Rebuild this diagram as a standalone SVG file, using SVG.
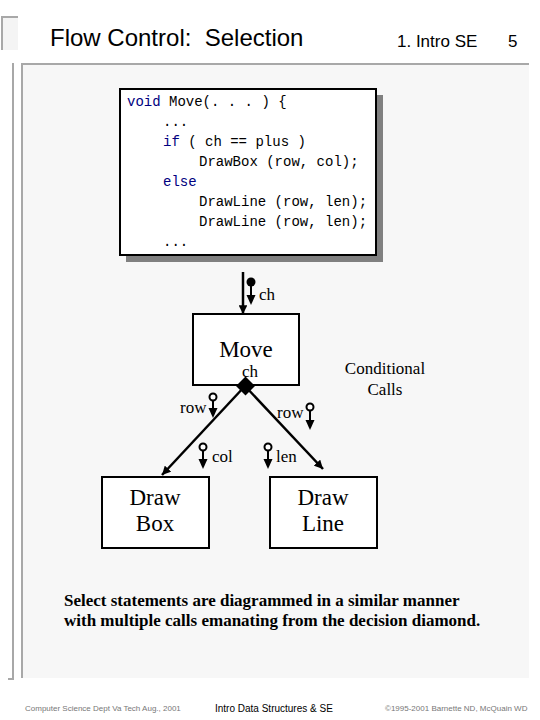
<svg xmlns="http://www.w3.org/2000/svg" width="540" height="720" viewBox="0 0 540 720">
<defs>
<style>
.frame{stroke:#a8a8a8;stroke-width:2;fill:none}
.hdr{font-family:"Liberation Sans",Arial,sans-serif;fill:#000;white-space:pre}
.code{font-family:"Liberation Mono","Courier New",monospace;font-size:14px;fill:#000}
.kw{fill:#000080}
.box{fill:#fff;stroke:#000;stroke-width:2}
.big{font-family:"Liberation Serif","Times New Roman",serif;font-size:23px;fill:#000;text-anchor:middle}
.lbl{font-family:"Liberation Serif","Times New Roman",serif;font-size:17px;fill:#000}
.conn{stroke:#000;stroke-width:2.5;fill:none}
.dc{stroke:#000;stroke-width:2;fill:none}
.note{font-family:"Liberation Serif","Times New Roman",serif;font-size:17px;font-weight:bold;fill:#000}
.foot{font-family:"Liberation Sans",Arial,sans-serif;font-size:8px;fill:#777}
</style>
<marker id="ah" viewBox="0 0 10 10" refX="10" refY="5" markerWidth="3.5" markerHeight="3.5" orient="auto" markerUnits="strokeWidth">
<path d="M0,0 L10,5 L0,10 z" fill="#000"/>
</marker>
</defs>
<rect width="540" height="720" fill="#fff"/>
<!-- slide frame -->
<rect x="2" y="17" width="16" height="33" fill="#f4f4f4"/>
<path class="frame" d="M2,50 V17 H18"/>
<path class="frame" d="M13,63 V679 H8"/>
<rect x="22" y="64" width="507" height="614" fill="#f7f7f7"/>
<path class="frame" d="M22,678 V64 H529"/>
<text class="hdr" x="50" y="46" font-size="24" xml:space="preserve">Flow Control:  Selection</text>
<text class="hdr" x="397" y="47" font-size="17">1. Intro SE</text>
<text class="hdr" x="508" y="47" font-size="17">5</text>
<!-- code box -->
<g id="code">
<rect x="126" y="95" width="257" height="167" fill="#808080"/>
<rect x="120" y="89" width="256" height="166" fill="#fff" stroke="#000" stroke-width="2"/>
<text class="code" x="127" y="106"><tspan class="kw">void</tspan> Move(. . . ) {</text>
<text class="code" x="163" y="126">...</text>
<text class="code" x="163" y="146"><tspan class="kw">if</tspan> ( ch == plus )</text>
<text class="code" x="199" y="166">DrawBox (row, col);</text>
<text class="code kw" x="163" y="186">else</text>
<text class="code" x="199" y="206">DrawLine (row, len);</text>
<text class="code" x="199" y="226">DrawLine (row, len);</text>
<text class="code" x="163" y="246">...</text>
</g>
<!-- nodes -->
<g id="move">
<rect class="box" x="193" y="314" width="106" height="71"/>
<text class="big" x="246" y="357" font-size="24">Move</text>
<text class="lbl" x="242" y="377">ch</text>
</g>
<g id="drawbox">
<rect class="box" x="102" y="477" width="107" height="71"/>
<text class="big" x="155" y="505">Draw</text>
<text class="big" x="155" y="531">Box</text>
</g>
<g id="drawline">
<rect class="box" x="270" y="477" width="107" height="71"/>
<text class="big" x="323" y="505">Draw</text>
<text class="big" x="323" y="531">Line</text>
</g>
<g id="cond-label">
<text class="lbl" x="385" y="374" font-size="18" text-anchor="middle">Conditional</text>
<text class="lbl" x="385" y="395" font-size="18" text-anchor="middle">Calls</text>
</g>
<!-- connectors -->
<g id="connectors">
<line class="conn" x1="243" y1="272" x2="243" y2="314" marker-end="url(#ah)"/>
<line class="conn" x1="245" y1="386" x2="162" y2="475" marker-end="url(#ah)"/>
<line class="conn" x1="245" y1="386" x2="323" y2="469" marker-end="url(#ah)"/>
<path d="M245.5,376.5 L255,386 L245.5,395.5 L236,386 z" fill="#000"/>
</g>
<!-- data couples -->
<g id="couples">
<g id="dc-ch">
<circle cx="251" cy="282" r="4.5" fill="#000"/>
<line class="dc" x1="251" y1="286" x2="251" y2="297"/>
<path d="M246.5,295 L255.5,295 L251,305 z" fill="#000"/>
<text class="lbl" x="259" y="300">ch</text>
</g>
<g id="dc-row1">
<circle cx="213" cy="397" r="3.5" fill="#fff" stroke="#000" stroke-width="2"/>
<line class="dc" x1="213" y1="401" x2="213" y2="410"/>
<path d="M208.5,408 L217.5,408 L213,418 z" fill="#000"/>
<text class="lbl" x="180" y="413">row</text>
</g>
<g id="dc-row2">
<circle cx="310" cy="407" r="3.5" fill="#fff" stroke="#000" stroke-width="2"/>
<line class="dc" x1="310" y1="411" x2="310" y2="422"/>
<path d="M305.5,420 L314.5,420 L310,430 z" fill="#000"/>
<text class="lbl" x="277" y="418">row</text>
</g>
<g id="dc-col">
<circle cx="203" cy="447" r="3.5" fill="#fff" stroke="#000" stroke-width="2"/>
<line class="dc" x1="203" y1="451" x2="203" y2="460"/>
<path d="M198.5,459 L207.5,459 L203,469 z" fill="#000"/>
<text class="lbl" x="212" y="462">col</text>
</g>
<g id="dc-len">
<circle cx="268" cy="447" r="3.5" fill="#fff" stroke="#000" stroke-width="2"/>
<line class="dc" x1="268" y1="451" x2="268" y2="460"/>
<path d="M263.5,459 L272.5,459 L268,469 z" fill="#000"/>
<text class="lbl" x="276" y="462">len</text>
</g>
</g>
<text class="note" x="64" y="606">Select statements are diagrammed in a similar manner</text>
<text class="note" x="64" y="626">with multiple calls emanating from the decision diamond.</text>
<text class="foot" x="25" y="711">Computer Science Dept Va Tech Aug., 2001</text>
<text class="hdr" x="215" y="712" font-size="10" fill="#333">Intro Data Structures &amp; SE</text>
<text class="foot" x="385" y="711">©1995-2001 Barnette ND, McQuain WD</text>
</svg>
